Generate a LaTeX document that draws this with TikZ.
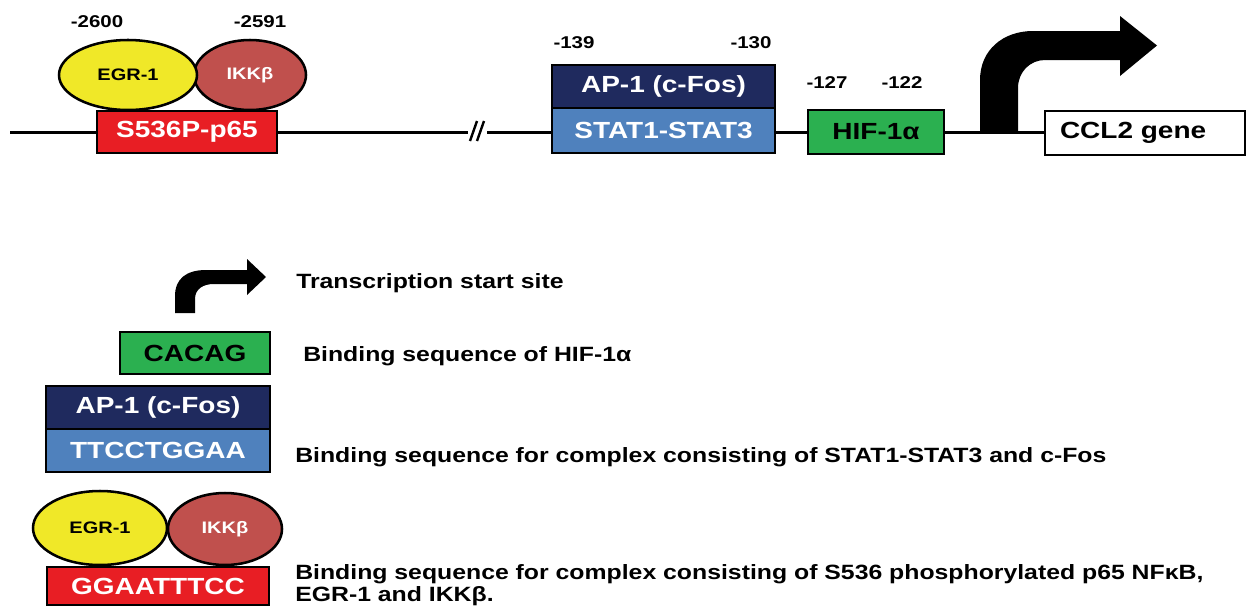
\documentclass[tikz,border=0pt]{standalone}
\usepackage{fontspec}
\setmainfont{Liberation Sans}[FakeStretch=1.2]
\usetikzlibrary{shapes.geometric,backgrounds}

\definecolor{pRed}{RGB}{232,30,36}
\definecolor{pYellow}{RGB}{240,232,40}
\definecolor{pRose}{RGB}{192,80,77}
\definecolor{pNavy}{RGB}{31,42,94}
\definecolor{pBlue}{RGB}{79,129,189}
\definecolor{pGreen}{RGB}{43,176,80}

\newcommand\dgBoxFont{\fontsize{17.5}{20}\selectfont\bfseries}
\newcommand\dgBlobFont{\fontsize{12.5}{14}\selectfont\bfseries}
\newcommand\dgPosFont{\fontsize{12.8}{15}\selectfont\bfseries}
\newcommand\dgLegFont{\fontsize{15.5}{16.5}\selectfont\bfseries}

\tikzset{
  dna/.style={line width=2.25pt},
  seqbox/.style={draw=black, line width=1.9pt, rectangle, inner sep=0pt, font=\dgBoxFont},
  blob/.style={draw=black, line width=1.9pt, ellipse, inner sep=0pt, font=\dgBlobFont},
  poslabel/.style={font=\dgPosFont, inner sep=0pt},
  legtext/.style={font=\dgLegFont, anchor=west, inner sep=0pt, align=left},
  tss/.style={fill=black},
}

\begin{document}
\begin{tikzpicture}[x=0.75pt, y=-0.75pt]
\useasboundingbox (0,0) rectangle (1246,608);

% ---------- promoter map ----------
\node[seqbox, fill=pRed, text=white, minimum width=135pt, minimum height=31.5pt] (p65) at (187,132) {S536P-p65};
\node[blob, fill=pRose, text=white, minimum width=84pt, minimum height=52.5pt] (ikk) at (250,75) {IKKβ};
\node[blob, fill=pYellow, minimum width=103.5pt, minimum height=52.5pt] (egr) at (128,75) {EGR-1};

\node[seqbox, fill=pNavy, text=white, minimum width=167.25pt, minimum height=32.25pt] (ap1) at (663.5,86.5) {AP-1 (c-Fos)};
\node[seqbox, fill=pBlue, text=white, minimum width=167.25pt, minimum height=33.75pt] (stat) at (663.5,130.5) {STAT1-STAT3};
\node[seqbox, fill=pGreen, minimum width=102pt, minimum height=33pt] (hif) at (876,132) {HIF-1α};
\node[seqbox, fill=white, minimum width=150pt, minimum height=33pt, text width=127.5pt, align=left] (ccl2) at (1145,133) {CCL2 gene};

% positions upstream of the start site
\node[poslabel] (n2600) at (97,22) {-2600};
\node[poslabel] (n2591) at (260,22) {-2591};
\node[poslabel] (n139) at (574,43) {-139};
\node[poslabel] (n130) at (751,43) {-130};
\node[poslabel] (n127) at (827,83) {-127};
\node[poslabel] (n122) at (902,83) {-122};

% DNA strand with a break, drawn below the boxes
\coordinate (L0) at (10,132);
\coordinate (brkL) at (468,132);
\coordinate (brkR) at (487,132);
\begin{scope}[on background layer]
  \fill[white] (0,0) rectangle (1246,608);
  \draw[dna] (L0) -- (brkL);
  \draw[dna] (brkR) -- (brkR -| ccl2.west);
\end{scope}
\draw[line width=1.8pt] (470,141) -- (477,121) (477,141) -- (484,121);

% transcription start site
\fill[tss] (980,132) -- (980,80) .. controls (980,50) and (1003,31) .. (1033,31)
  -- (1120,31) -- (1120,16) -- (1157,45.5) -- (1120,76) -- (1120,60) -- (1045,60)
  .. controls (1030,60) and (1018,72) .. (1018,88) -- (1018,132) -- cycle;

% ---------- legend ----------
\fill[tss] (175,313) -- (175,296) .. controls (175,279) and (186,270) .. (206,270)
  -- (247,270) -- (247,259) -- (266,277) -- (247,295) -- (247,284) -- (214,284)
  .. controls (203,284) and (195,289) .. (195,299) -- (195,313) -- cycle;
\node[legtext] (tTSS) at (296,283) {Transcription start site};

\node[seqbox, fill=pGreen, minimum width=112.5pt, minimum height=31.5pt] (lhif) at (195,353) {CACAG};
\node[legtext] (tHIF) at (303,356) {Binding sequence of HIF-1α};

\node[seqbox, fill=pNavy, text=white, minimum width=168pt, minimum height=32.25pt] (lap1) at (158,407.5) {AP-1 (c-Fos)};
\node[seqbox, fill=pBlue, text=white, minimum width=168pt, minimum height=32.25pt] (lstat) at (158,450.5) {TTCCTGGAA};
\node[legtext] (tSTAT) at (295,457) {Binding sequence for complex consisting of STAT1-STAT3 and c-Fos};

\node[blob, fill=pRose, text=white, minimum width=85.5pt, minimum height=54pt] (likk) at (225,529) {IKKβ};
\node[blob, fill=pYellow, minimum width=100.5pt, minimum height=55.5pt] (legr) at (100,528) {EGR-1};
\node[seqbox, fill=pRed, text=white, minimum width=166.5pt, minimum height=28.5pt] (lp65) at (158,586) {GGAATTTCC};
\node[legtext, anchor=north west] (tP65) at (295,564) {Binding sequence for complex consisting of S536 phosphorylated p65 NFκB,\\EGR-1 and IKKβ.};
\end{tikzpicture}
\end{document}
